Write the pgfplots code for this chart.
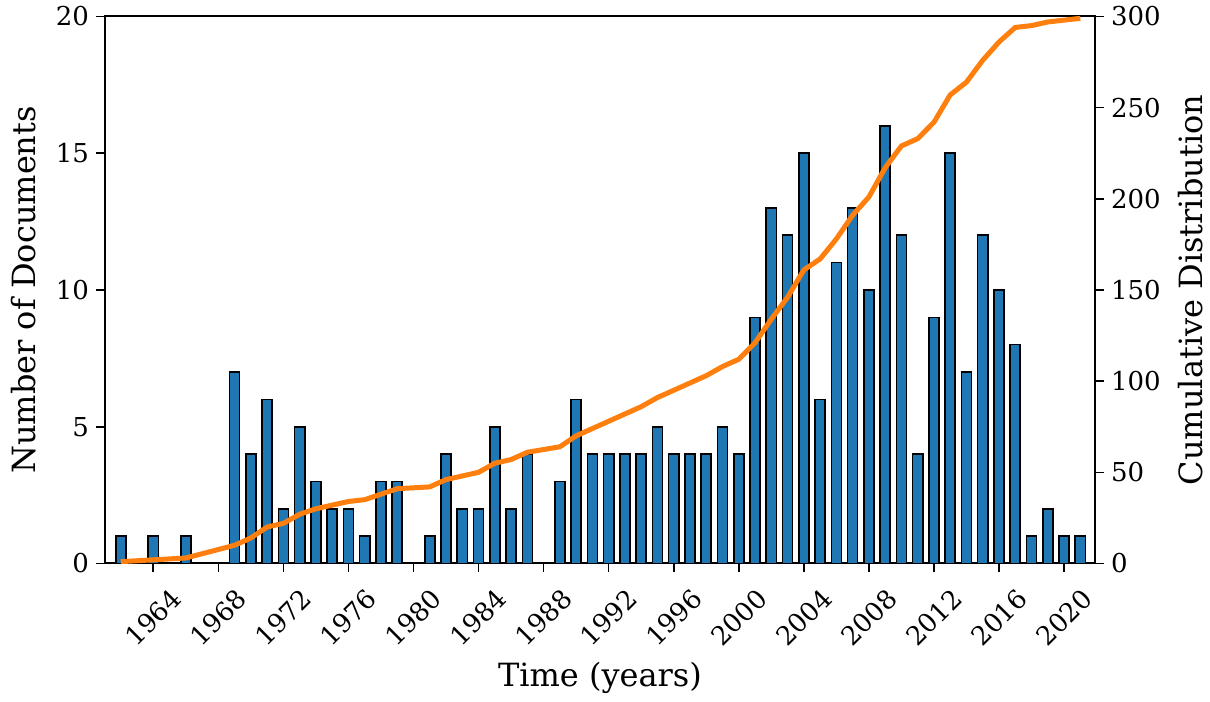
\documentclass[border=0pt]{standalone}
\usepackage{fontspec}
\setmainfont{DejaVu Serif}
\usepackage{pgfplots}
\pgfplotsset{compat=1.18}
\definecolor{barblue}{HTML}{1F77B4}
\definecolor{lineorange}{HTML}{FF7F0E}

\pgfplotsset{
  common/.style={
    width=495pt, height=273.5pt, scale only axis,
    xmin=1961.03, xmax=2021.9,
    tick align=outside, major tick length=4.5pt,
    tick style={black, line width=0.8pt},
    axis line style={line width=1pt},
    /pgf/number format/assume math mode=true,
    /pgf/number format/1000 sep={},
    tick label style={font=\fontsize{13}{15}\selectfont},
    label style={font=\fontsize{16}{19}\selectfont},
  }
}

\begin{document}
\begin{tikzpicture}
\begin{axis}[common, name=main,
  ymin=0, ymax=20, ytick={0,5,10,15,20},
  xtick={1964,1968,...,2020},
  xtick pos=bottom, ytick pos=left,
  xticklabel style={rotate=45, anchor=center},
  xticklabel shift=22.5pt,
  xlabel={Time (years)},
  ylabel={Number of Documents},
  xlabel style={at={(axis description cs:0.5,-0.21)}, anchor=center},
  ylabel style={at={(axis description cs:-0.082,0.5)}, anchor=center},
]
\addplot[ybar, bar width=0.62, fill=barblue, draw=black, line width=0.8pt] coordinates {
(1962,1) (1964,1) (1966,1) (1969,7) (1970,4) (1971,6) (1972,2) (1973,5)
(1974,3) (1975,2) (1976,2) (1977,1) (1978,3) (1979,3) (1981,1) (1982,4)
(1983,2) (1984,2) (1985,5) (1986,2) (1987,4) (1989,3) (1990,6) (1991,4)
(1992,4) (1993,4) (1994,4) (1995,5) (1996,4) (1997,4) (1998,4) (1999,5)
(2000,4) (2001,9) (2002,13) (2003,12) (2004,15) (2005,6) (2006,11) (2007,13)
(2008,10) (2009,16) (2010,12) (2011,4) (2012,9) (2013,15) (2014,7) (2015,12)
(2016,10) (2017,8) (2018,1) (2019,2) (2020,1) (2021,1)
};
\end{axis}
\begin{axis}[common,
  ymin=0, ymax=300, ytick={0,50,...,300},
  axis x line=none, axis y line*=right,
  ylabel={Cumulative Distribution},
  ylabel style={at={(axis description cs:1.097,0.5)}, anchor=center},
]
\addplot[lineorange, line width=2.5pt, no marks] coordinates {
(1962,1) (1964,2) (1966,3) (1969,10) (1970,14) (1971,20) (1972,22) (1973,27)
(1974,30) (1975,32) (1976,34) (1977,35) (1978,38) (1979,41) (1981,42) (1982,46)
(1983,48) (1984,50) (1985,55) (1986,57) (1987,61) (1989,64) (1990,70) (1991,74)
(1992,78) (1993,82) (1994,86) (1995,91) (1996,95) (1997,99) (1998,103) (1999,108)
(2000,112) (2001,121) (2002,134) (2003,146) (2004,161) (2005,167) (2006,178) (2007,191)
(2008,201) (2009,217) (2010,229) (2011,233) (2012,242) (2013,257) (2014,264) (2015,276)
(2016,286) (2017,294) (2018,295) (2019,297) (2020,298) (2021,299)
};
\end{axis}
\path (main.south west) ++(-52.5pt,-69pt) rectangle ++(605pt,350.5pt);
\end{tikzpicture}
\end{document}
